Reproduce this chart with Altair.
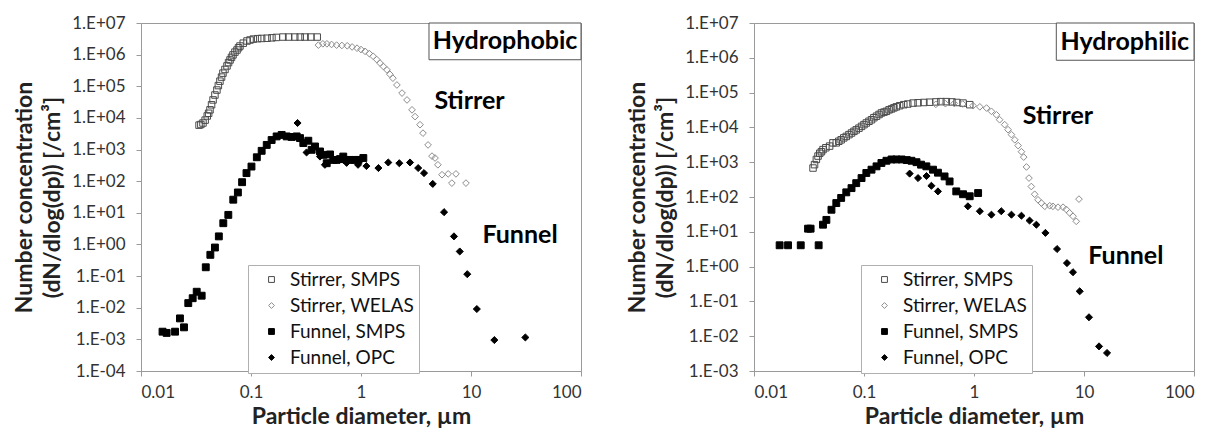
import altair as alt
import pandas as pd

# ---------------- data ----------------
series_names = ["Stirrer, SMPS", "Stirrer, WELAS", "Funnel, SMPS", "Funnel, OPC"]

# Hydrophobic panel
hb_stirrer_smps_d = [0.0337, 0.0350, 0.0366, 0.0383, 0.0400, 0.0412, 0.0424, 0.0438, 0.0452, 0.0470,
                     0.0490, 0.0505, 0.0522, 0.0540, 0.0556, 0.0580, 0.0605, 0.0625, 0.0645, 0.0665,
                     0.0686, 0.0715, 0.0746, 0.0770, 0.0794, 0.0850, 0.092, 0.098, 0.105, 0.115,
                     0.125, 0.14, 0.155, 0.17, 0.195, 0.22, 0.25, 0.28, 0.31, 0.35, 0.40]
hb_stirrer_smps_n = [5.9e3, 6.2e3, 6.9e3, 8.5e3, 1.15e4, 1.4e4, 1.8e4, 2.6e4, 3.7e4, 5.3e4,
                     7.6e4, 1.05e5, 1.45e5, 1.95e5, 2.6e5, 3.4e5, 4.4e5, 5.6e5, 6.8e5, 8.2e5,
                     9.8e5, 1.2e6, 1.4e6, 1.65e6, 1.87e6, 2.3e6, 2.7e6, 2.9e6, 3.1e6, 3.2e6,
                     3.25e6, 3.3e6, 3.4e6, 3.5e6, 3.6e6, 3.6e6, 3.6e6, 3.6e6, 3.6e6, 3.6e6, 3.6e6]

hb_stirrer_welas_d = [0.41, 0.45, 0.49, 0.54, 0.6, 0.67, 0.75, 0.83, 0.92, 1.0, 1.09, 1.19, 1.29, 1.39,
                      1.49, 1.6, 1.72, 1.83, 1.95, 2.12, 2.36, 2.62, 2.91, 3.1, 3.44, 3.66, 4.07, 4.42,
                      4.71, 5.0, 5.45, 6.2, 6.7, 7.3, 9.0]
hb_stirrer_welas_n = [2.0e6, 2.2e6, 2.2e6, 2.1e6, 2.0e6, 1.95e6, 1.9e6, 1.75e6, 1.6e6, 1.45e6, 1.27e6,
                      1.08e6, 8.9e5, 7.0e5, 5.4e5, 4.2e5, 3.3e5, 2.4e5, 1.8e5, 1.1e5, 6.1e4, 3.7e4,
                      1.8e4, 1.1e4, 6.1e3, 3.3e3, 1.4e3, 6.2e2, 5.4e2, 3.3e2, 1.6e2, 1.7e2, 87, 1.7e2, 87]

hb_funnel_smps_d = [0.0157, 0.0171, 0.0204, 0.0226, 0.0246, 0.0269, 0.0295, 0.0321, 0.0356, 0.0388,
                    0.0427, 0.047, 0.051, 0.056, 0.0622, 0.069, 0.076, 0.083, 0.091, 0.101, 0.113,
                    0.125, 0.139, 0.154, 0.171, 0.19, 0.211, 0.234, 0.26, 0.279, 0.299, 0.332, 0.356,
                    0.382, 0.424, 0.455, 0.488, 0.523, 0.56, 0.6, 0.645, 0.69, 0.74, 0.79, 0.88, 0.95, 1.05]
hb_funnel_smps_n = [1.75e-3, 1.6e-3, 1.75e-3, 4.6e-3, 2.4e-3, 1.4e-2, 2.0e-2, 3.2e-2, 2.4e-2, 0.19,
                    0.47, 0.8, 1.8, 4.7, 8.6, 26, 44, 93, 180, 290, 570,
                    910, 1400, 2000, 2600, 2900, 2600, 2500, 2600, 2300, 1600, 1900, 980,
                    1250, 870, 680, 370, 700, 470, 470, 500, 600, 470, 470, 470, 470, 540]

hb_funnel_opc_d = [0.265, 0.32, 0.424, 0.47, 0.74, 0.94, 1.12, 1.44, 1.77, 2.23, 2.79, 3.31, 3.74,
                   4.49, 5.69, 7.0, 7.9, 9.25, 11.3, 16.3, 31.2]
hb_funnel_opc_n = [6.9e3, 8.1e2, 6.0e2, 3.3e2, 3.8e2, 3.3e2, 3.0e2, 2.6e2, 3.9e2, 3.7e2, 3.9e2, 2.6e2,
                   1.8e2, 82, 10.5, 1.8, 0.6, 0.115, 9.1e-3, 9.5e-4, 1.15e-3]

# Hydrophilic panel
hl_stirrer_smps_d = [0.0344, 0.0355, 0.0369, 0.0382, 0.0396, 0.041, 0.0424, 0.045, 0.0487, 0.0522,
                     0.056, 0.059, 0.062, 0.0655, 0.069, 0.073, 0.077, 0.081, 0.085, 0.09, 0.095,
                     0.1, 0.105, 0.111, 0.117, 0.123, 0.13, 0.137, 0.144, 0.152, 0.16, 0.169, 0.178,
                     0.187, 0.197, 0.211, 0.23, 0.25, 0.279, 0.31, 0.35, 0.395, 0.45, 0.5, 0.56,
                     0.63, 0.7, 0.795, 0.915]
hl_stirrer_smps_n = [6.8e2, 8.5e2, 1.2e3, 1.5e3, 1.8e3, 2.0e3, 2.3e3, 2.6e3, 2.9e3, 3.6e3,
                     3.6e3, 4.0e3, 4.4e3, 5.0e3, 5.5e3, 6.2e3, 6.9e3, 7.7e3, 8.5e3, 9.5e3, 1.07e4,
                     1.2e4, 1.34e4, 1.5e4, 1.66e4, 1.9e4, 2.1e4, 2.35e4, 2.6e4, 2.75e4, 2.9e4, 3.2e4, 3.4e4,
                     3.65e4, 3.9e4, 4.2e4, 4.5e4, 4.7e4, 5.0e4, 5.1e4, 5.2e4, 5.3e4, 5.4e4, 5.5e4, 5.5e4,
                     5.4e4, 5.2e4, 5.0e4, 4.5e4]

hl_stirrer_welas_d = [0.45, 0.55, 0.66, 0.79, 0.98, 1.13, 1.3, 1.44, 1.6, 1.71, 1.9, 2.04, 2.19, 2.35,
                      2.52, 2.7, 2.83, 3.0, 3.16, 3.32, 3.56, 3.82, 4.1, 4.4, 4.88, 5.22, 5.8, 6.45,
                      6.9, 7.4, 7.95, 8.5, 9.0]
hl_stirrer_welas_n = [4.6e4, 4.8e4, 4.9e4, 4.7e4, 4.2e4, 3.9e4, 3.6e4, 2.9e4, 2.3e4, 1.66e4, 1.2e4,
                      8.6e3, 6.2e3, 4.4e3, 3.0e3, 2.0e3, 1.4e3, 7.3e2, 3.5e2, 2.0e2, 1.2e2, 83, 67, 54,
                      56, 54, 51, 51, 44, 35, 28, 20, 87]

hl_funnel_smps_d = [0.0171, 0.0204, 0.0266, 0.031, 0.0327, 0.0387, 0.0424, 0.0455, 0.0506, 0.056,
                    0.062, 0.069, 0.077, 0.085, 0.095, 0.105, 0.117, 0.13, 0.144, 0.16, 0.178, 0.197,
                    0.22, 0.245, 0.27, 0.3, 0.33, 0.369, 0.424, 0.47, 0.54, 0.6, 0.69, 0.795, 0.914, 1.09]
hl_funnel_smps_n = [4.1, 4.1, 4.1, 12.3, 12.3, 4.1, 16, 22, 43, 67,
                    94, 136, 180, 250, 350, 490, 610, 760, 950, 1.1e3, 1.2e3, 1.2e3,
                    1.2e3, 1.15e3, 1.1e3, 1.0e3, 8.5e2, 7.6e2, 6.1e2, 5.0e2, 3.9e2, 2.8e2, 1.45e2,
                    1.2e2, 1.05e2, 1.3e2]

hl_funnel_opc_d = [0.26, 0.31, 0.37, 0.41, 0.47, 0.88, 1.13, 1.44, 1.77, 2.19, 2.7, 3.2, 3.69, 4.46,
                   5.69, 7.0, 7.94, 9.14, 11.1, 13.7, 16.2]
hl_funnel_opc_n = [4.7e2, 3.5e2, 4.0e2, 2.1e2, 1.45e2, 54, 39, 31, 39, 31, 29, 21, 16, 9.3,
                   3.2, 1.26, 0.69, 0.195, 0.035, 5.1e-3, 3.3e-3]

# axis ticks and labels
x_ticks = [0.01, 0.1, 1, 10, 100]
x_tick_labels = ["0.01", "0.1", "1", "10", "100"]
y_ticks = [1e-4, 1e-3, 1e-2, 1e-1, 1e0, 1e1, 1e2, 1e3, 1e4, 1e5, 1e6, 1e7]
y_tick_labels = ["1.E-04", "1.E-03", "1.E-02", "1.E-01", "1.E+00", "1.E+01", "1.E+02",
                 "1.E+03", "1.E+04", "1.E+05", "1.E+06", "1.E+07"]

# annotations (data coordinates)
panel_titles = ["Hydrophobic", "Hydrophilic"]
title_box_d = [4.15, 5.6]
title_box_n = [6.9e5, 8.5e5]
title_text_d = [20.4, 23.5]
title_text_n = [2.7e6, 2.9e6]
note_labels = ["Stirrer", "Funnel"]
hb_note_d = [9.7, 27.9]
hb_note_n = [3.4e4, 2.0]
hl_note_d = [5.8, 24.0]
hl_note_n = [2.1e4, 2.0]

# ---------------- build ----------------
FONT = "Lato"


def cond_expr(values, labels):
    parts = []
    for v, lab in zip(values[:-1], labels[:-1]):
        parts.append(f"datum.value < {v * 1.5!r} ? '{lab}' : ")
    return "".join(parts) + f"'{labels[-1]}'"


def long_frame(pairs):
    rows = []
    for name, (ds, ns) in zip(series_names, pairs):
        for d, n in zip(ds, ns):
            rows.append({"d": d, "n": n, "series": name})
    return pd.DataFrame(rows)


def panel(df, ymin, idx, note_d, note_n):
    xscale = alt.Scale(type="log", domain=[0.01, 100], nice=False)
    yscale = alt.Scale(type="log", domain=[ymin, 1e7], nice=False)
    yvals = [v for v in y_ticks if v >= ymin * 0.99]
    ylabs = [l for v, l in zip(y_ticks, y_tick_labels) if v >= ymin * 0.99]
    xaxis = alt.Axis(values=x_ticks, labelExpr=cond_expr(x_ticks, x_tick_labels),
                     title="Particle diameter, µm", grid=False, tickSize=5, labelPadding=8,
                     titlePadding=5)
    yaxis = alt.Axis(values=yvals, labelExpr=cond_expr(yvals, ylabs),
                     title=["Number concentration", "(dN/dlog(dp)) [/cm³]"], grid=False,
                     tickSize=5, labelPadding=11, titlePadding=7, titleLineHeight=28)
    X = alt.X("d:Q", scale=xscale, axis=xaxis)
    Y = alt.Y("n:Q", scale=yscale, axis=yaxis)

    pts = alt.Chart(df).mark_point(strokeWidth=1, opacity=1).encode(
        x=X, y=Y,
        shape=alt.Shape("series:N", scale=alt.Scale(domain=series_names,
                        range=["square", "diamond", "square", "diamond"]),
                        legend=alt.Legend(title=None, orient="none", legendX=107, legendY=242,
                                          strokeColor="#b0b0b0", fillColor="white", padding=5,
                                          labelFont=FONT, labelFontSize=19, labelColor="#111",
                                          symbolSize=34, rowPadding=6, symbolOffset=9,
                                          labelOffset=9, symbolStrokeWidth=1, labelLimit=300)),
        stroke=alt.Stroke("series:N", scale=alt.Scale(domain=series_names,
                          range=["#4a4a4a", "#8c8c8c", "#000000", "#000000"])),
        fill=alt.Fill("series:N", scale=alt.Scale(domain=series_names,
                      range=["transparent", "transparent", "#000000", "#000000"])),
        size=alt.Size("series:N", scale=alt.Scale(domain=series_names, range=[42, 50, 44, 52]),
                      legend=None),
    )

    box_df = pd.DataFrame({"d": [title_box_d[idx]], "d2": [100], "n": [title_box_n[idx]],
                           "n2": [1e7]})
    box = alt.Chart(box_df).mark_rect(fill="white", stroke="#555555", strokeWidth=1).encode(
        x=X, x2="d2:Q", y=Y, y2="n2:Q")
    ttl_df = pd.DataFrame({"d": [title_text_d[idx]], "n": [title_text_n[idx]],
                           "t": [panel_titles[idx]]})
    ttl = alt.Chart(ttl_df).mark_text(font=FONT, fontSize=25, fontWeight="bold",
                                      color="#000").encode(x=X, y=Y, text="t:N")
    note_df = pd.DataFrame({"d": note_d, "n": note_n, "t": note_labels})
    notes = alt.Chart(note_df).mark_text(font=FONT, fontSize=25, fontWeight="bold",
                                         color="#000").encode(x=X, y=Y, text="t:N")
    return alt.layer(pts, box, ttl, notes).properties(width=440, height=348)


hb = long_frame([(hb_stirrer_smps_d, hb_stirrer_smps_n), (hb_stirrer_welas_d, hb_stirrer_welas_n),
                 (hb_funnel_smps_d, hb_funnel_smps_n), (hb_funnel_opc_d, hb_funnel_opc_n)])
hl = long_frame([(hl_stirrer_smps_d, hl_stirrer_smps_n), (hl_stirrer_welas_d, hl_stirrer_welas_n),
                 (hl_funnel_smps_d, hl_funnel_smps_n), (hl_funnel_opc_d, hl_funnel_opc_n)])

left = panel(hb, 1e-4, 0, hb_note_d, hb_note_n)
right = panel(hl, 1e-3, 1, hl_note_d, hl_note_n)

chart = alt.hconcat(left, right, spacing=44).resolve_scale(
    x="independent", y="independent"
).resolve_legend(shape="independent", stroke="independent", fill="independent").configure_view(
    stroke="#9a9a9a", strokeWidth=1
).configure_axis(
    domainColor="#9a9a9a", tickColor="#9a9a9a", labelFont=FONT, labelFontSize=17,
    labelColor="#333333", titleFont=FONT, titleFontSize=23, titleFontWeight="bold",
    titleColor="#222222"
).properties(background="white")

chart.save("out.html", embed_options={"renderer": "svg", "actions": False})
